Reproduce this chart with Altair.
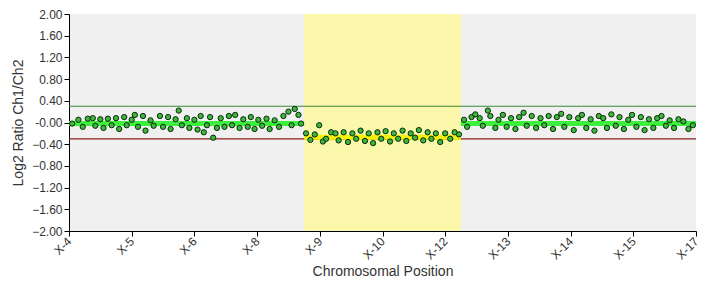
import altair as alt
import pandas as pd

# tick labels of the chromosomal position axis
x_labels = ["X-4", "X-5", "X-6", "X-8", "X-9", "X-10", "X-12", "X-13", "X-14", "X-15", "X-17"]

# probe positions (axis units) and log2 ratios, left normal segment
left_x = [0.05, 0.15, 0.22, 0.30, 0.38, 0.42, 0.50, 0.55, 0.62, 0.68, 0.75, 0.80, 0.88, 0.92,
          1.00, 1.05, 1.10, 1.18, 1.22, 1.30, 1.35, 1.45, 1.50, 1.58, 1.62, 1.70, 1.75, 1.80,
          1.88, 1.92, 2.00, 2.05, 2.10, 2.15, 2.20, 2.25, 2.30, 2.36, 2.42, 2.48, 2.55, 2.60,
          2.65, 2.72, 2.78, 2.85, 2.90, 2.96, 3.02, 3.08, 3.15, 3.20, 3.28, 3.35, 3.42, 3.50,
          3.55, 3.60, 3.66, 3.70]
left_y = [-0.02, 0.05, -0.08, 0.07, 0.08, -0.06, 0.06, -0.10, 0.07, -0.05, 0.08, -0.12, 0.10, -0.05,
          0.05, 0.14, -0.08, 0.12, -0.15, 0.04, -0.06, 0.12, -0.08, 0.10, -0.12, 0.06, 0.22, -0.05,
          0.08, -0.10, 0.05, -0.13, 0.12, -0.18, -0.05, 0.10, -0.28, -0.10, 0.08, -0.08, 0.12, -0.05,
          0.14, -0.10, 0.06, -0.08, 0.10, -0.12, 0.05, -0.06, 0.07, -0.12, 0.04, -0.08, 0.12, 0.20,
          -0.05, 0.25, 0.14, -0.02]

# middle (lost) segment
mid_x = [3.78, 3.85, 3.92, 3.99, 4.05, 4.10, 4.18, 4.25, 4.30, 4.38, 4.45, 4.52, 4.58, 4.65,
         4.72, 4.78, 4.85, 4.92, 4.98, 5.05, 5.12, 5.18, 5.25, 5.32, 5.38, 5.45, 5.52, 5.58,
         5.65, 5.72, 5.78, 5.85, 5.92, 6.00, 6.08, 6.15, 6.22]
mid_y = [-0.20, -0.32, -0.22, -0.05, -0.35, -0.30, -0.18, -0.20, -0.33, -0.18, -0.36, -0.20, -0.30, -0.15,
         -0.34, -0.20, -0.38, -0.18, -0.30, -0.16, -0.35, -0.20, -0.30, -0.15, -0.34, -0.20, -0.28, -0.14,
         -0.33, -0.18, -0.30, -0.20, -0.36, -0.20, -0.30, -0.18, -0.22]

# right normal segment
right_x = [6.30, 6.35, 6.42, 6.48, 6.55, 6.60, 6.68, 6.72, 6.80, 6.85, 6.92, 6.98, 7.05, 7.12,
           7.18, 7.25, 7.30, 7.38, 7.45, 7.52, 7.58, 7.65, 7.72, 7.78, 7.85, 7.90, 7.98, 8.05,
           8.12, 8.18, 8.25, 8.32, 8.38, 8.45, 8.52, 8.58, 8.65, 8.72, 8.78, 8.85, 8.92, 8.98,
           9.05, 9.12, 9.18, 9.25, 9.32, 9.38, 9.45, 9.52, 9.58, 9.65, 9.72, 9.80, 9.88, 9.95]
right_y = [0.05, -0.08, 0.10, 0.15, 0.08, -0.06, 0.22, 0.12, -0.10, 0.05, 0.14, -0.08, 0.08, -0.12,
           0.10, 0.18, -0.06, 0.12, -0.10, 0.08, -0.05, 0.12, -0.12, 0.10, 0.16, -0.08, 0.10, -0.14,
           0.08, 0.14, -0.10, 0.06, -0.15, 0.12, 0.08, -0.10, 0.15, -0.06, 0.10, -0.12, 0.05, 0.14,
           -0.08, 0.10, -0.14, 0.06, -0.10, 0.08, 0.12, -0.06, 0.04, -0.10, 0.06, 0.02, -0.12, -0.05]

# segment means (step line)
seg_x = [0, 3.75, 3.75, 6.25, 6.25, 10]
seg_y = [-0.02, -0.02, -0.27, -0.27, -0.02, -0.02]
seg_id = ["a", "a", "b", "b", "c", "c"]

# highlighted region and thresholds
region = [3.75, 6.25]
upper_thr = 0.3
lower_thr = -0.3
y_ticks = [-2, -1.6, -1.2, -0.8, -0.4, 0, 0.4, 0.8, 1.2, 1.6, 2.0]

W, H = 627, 217

pts = pd.DataFrame({"x": left_x + mid_x + right_x, "y": left_y + mid_y + right_y})
segs = pd.DataFrame({"x": seg_x, "y": seg_y, "s": seg_id})

label_expr = "[" + ",".join("'%s'" % l for l in x_labels) + "][round(datum.value)]"

xscale = alt.Scale(domain=[0, 10], nice=False, zero=False)
yscale = alt.Scale(domain=[-2, 2], nice=False)

xaxis = alt.Axis(values=list(range(11)), labelExpr=label_expr, labelAngle=315, labelAlign="right",
                 labelBaseline="middle", title="Chromosomal Position", grid=False,
                 domainColor="black", tickColor="black", tickSize=5, labelPadding=3,
                 labelOverlap=False, labelFontSize=12,
                 titleFontSize=14, titleFontWeight="normal", titlePadding=3)
yaxis = alt.Axis(values=y_ticks,
                 labelExpr="datum.value == 0 ? '-0.00' : format(datum.value, '.2f')",
                 labelOverlap=False, labelFontSize=12,
                 title="Log2 Ratio Ch1/Ch2", grid=False, domainColor="black", tickColor="black",
                 tickSize=5, titleFontSize=14, titleFontWeight="normal", titlePadding=6)

X = lambda f: alt.X(f, scale=xscale, axis=xaxis)
Y = lambda f: alt.Y(f, scale=yscale, axis=yaxis)

band = alt.Chart(pd.DataFrame({"x": [region[0]], "x2": [region[1]], "y": [-2], "y2": [2]})).mark_rect(
    color="#fbf8ac").encode(x=X("x:Q"), x2="x2:Q", y=Y("y:Q"), y2="y2:Q")

thr = alt.Chart(pd.DataFrame({"y": [upper_thr, lower_thr], "c": ["up", "down"]})).mark_rule(
    strokeWidth=1.2).encode(
    y=Y("y:Q"),
    color=alt.Color("c:N", scale=alt.Scale(domain=["up", "down"], range=["#3a8a3a", "#8b2020"]), legend=None))

seg_line = alt.Chart(segs).mark_line(strokeWidth=5).encode(
    x=X("x:Q"), y=Y("y:Q"), detail="s:N",
    color=alt.Color("s:N", scale=alt.Scale(domain=["a", "b", "c"], range=["#3cf03c", "#f2f20a", "#3cf03c"]), legend=None))

dots = alt.Chart(pts).mark_point(filled=True, shape="circle", size=28, fill="#3db83d",
                                 stroke="#0a2a0a", strokeWidth=1, opacity=1).encode(
    x=X("x:Q"), y=Y("y:Q"))

chart = alt.layer(band, thr, seg_line, dots).resolve_scale(color="independent").properties(
    width=W, height=H, autosize=alt.AutoSizeParams(type="none"),
    padding={"left": 61, "top": 6, "right": 5, "bottom": 52}
).configure_view(fill="#f0f0f0", strokeWidth=0).configure_axis(
    labelFont="Liberation Sans", titleFont="Liberation Sans",
    labelColor="#333333", titleColor="#333333")

chart.save("out.html", embed_options={"renderer": "svg", "actions": False})
